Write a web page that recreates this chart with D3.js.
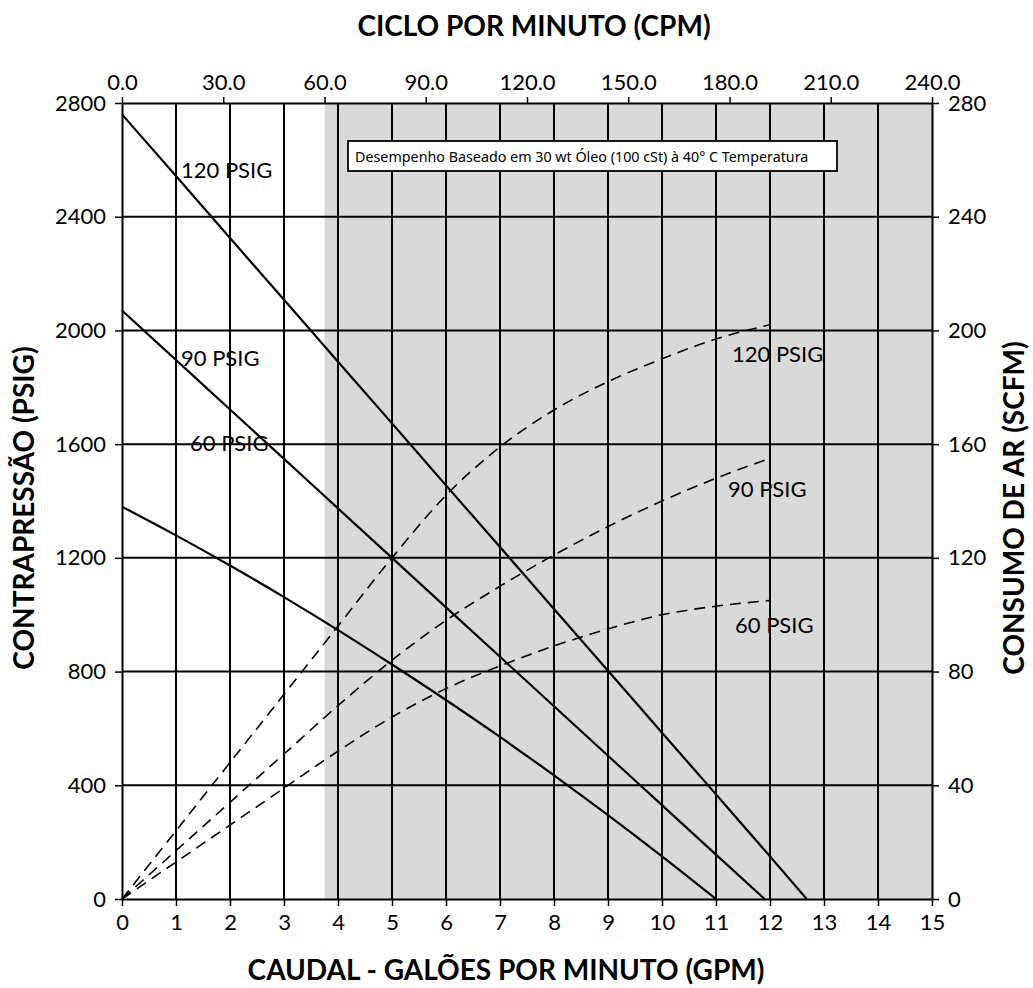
<!DOCTYPE html>
<html><head><meta charset="utf-8">
<script src="https://cdn.jsdelivr.net/npm/d3@7"></script>
<style>body{margin:0;background:#fff}svg{display:block}</style>
</head><body><svg id="c" width="1033" height="988"></svg>
<script>
// ---- data ----
const gpmTicks = [0,1,2,3,4,5,6,7,8,9,10,11,12,13,14,15];
const psigTicks = [0,400,800,1200,1600,2000,2400,2800];
const cpmTicks = [0,30,60,90,120,150,180,210,240];
const scfmTicks = [0,40,80,120,160,200,240,280];
const shadeStartCpm = 60;

// back pressure (PSIG) vs flow (GPM)
const bp120_x = [0,1,2,3,4,5,6,7,8,9,10,11,12,12.68];
const bp120_y = [2760,2543,2325,2108,1890,1673,1455,1238,1020,803,585,368,150,0];
const bp90_x  = [0,1,2,3,4,5,6,7,8,9,10,11,11.9];
const bp90_y  = [2070,1896,1722,1548,1374,1200,1026,852,678,504,330,156,0];
const bp60_x  = [0,1,2,3,4,5,6,7,8,9,10,11];
const bp60_y  = [1380,1279,1173,1062,946,825,700,570,435,295,150,0];

// air consumption (SCFM) vs flow (GPM)
const air_x   = [0,1,2,3,4,5,6,7,8,9,10,11,12];
const air120  = [0,24,48,72,96,120,142,159,172,182,190,197,202];
const air90   = [0,17,34,51,68,84,98,110,121,131,140,148,155];
const air60   = [0,13,26,39,52,64,74,82,89,95,100,103,105];

const labelsSolid = ["120 PSIG","90 PSIG","60 PSIG"];
const labelsAir = ["120 PSIG","90 PSIG","60 PSIG"];
const noteText = "Desempenho Baseado em 30 wt Óleo (100 cSt) à 40° C Temperatura";
const titleTop = "CICLO POR MINUTO (CPM)";
const titleBottom = "CAUDAL - GALÕES POR MINUTO (GPM)";
const titleLeft = "CONTRAPRESSÃO (PSIG)";
const titleRight = "CONSUMO DE AR (SCFM)";

// ---- layout ----
const L=122, R=932, T=103, B=899;
const svg = d3.select("#c");
const x = d3.scaleLinear().domain([0,15]).range([L,R]);
const xTop = d3.scaleLinear().domain([0,240]).range([L,R]);
const y = d3.scaleLinear().domain([0,2800]).range([B,T]);
const yR = d3.scaleLinear().domain([0,280]).range([B,T]);
const FONT = "Lato, 'Open Sans', sans-serif";

// shading
svg.append("rect").attr("x", xTop(shadeStartCpm)).attr("y", T)
  .attr("width", R - xTop(shadeStartCpm)).attr("height", B-T).attr("fill", "#d9d9d9");

// grid
const g = svg.append("g").attr("stroke","#000").attr("stroke-width",2);
g.selectAll(".vg").data(gpmTicks.slice(1,-1)).join("line")
  .attr("x1",d=>x(d)).attr("x2",d=>x(d)).attr("y1",T).attr("y2",B);
g.selectAll(".hg").data(psigTicks.slice(1,-1)).join("line")
  .attr("y1",d=>y(d)).attr("y2",d=>y(d)).attr("x1",L).attr("x2",R);

// axes
function styleAxis(sel){
  sel.selectAll("path").attr("stroke","#000").attr("stroke-width",2);
  sel.selectAll("line").attr("stroke","#000").attr("stroke-width",1.5);
  sel.selectAll("text").attr("font-family",FONT).attr("font-size",22).attr("fill","#000");
}
const ax = svg.append("g").attr("transform",`translate(0,${B})`)
  .call(d3.axisBottom(x).tickValues(gpmTicks).tickSize(7).tickSizeOuter(0).tickPadding(8));
styleAxis(ax);
const axT = svg.append("g").attr("transform",`translate(0,${T})`)
  .call(d3.axisTop(xTop).tickValues(cpmTicks).tickFormat(d3.format(".1f")).tickSize(6).tickSizeOuter(0).tickPadding(7));
styleAxis(axT);
const ayL = svg.append("g").attr("transform",`translate(${L},0)`)
  .call(d3.axisLeft(y).tickValues(psigTicks).tickFormat(d3.format("d")).tickSize(7).tickSizeOuter(0).tickPadding(9));
styleAxis(ayL);
const ayR = svg.append("g").attr("transform",`translate(${R},0)`)
  .call(d3.axisRight(yR).tickValues(scfmTicks).tickFormat(d3.format("d")).tickSize(7).tickSizeOuter(0).tickPadding(9));
styleAxis(ayR);

// curves
const solid = d3.line().x(d=>x(d[0])).y(d=>y(d[1])).curve(d3.curveMonotoneX);
const dashed = d3.line().x(d=>x(d[0])).y(d=>yR(d[1])).curve(d3.curveMonotoneX);
[[bp120_x,bp120_y],[bp90_x,bp90_y],[bp60_x,bp60_y]].forEach(([xs,ys])=>{
  svg.append("path").attr("d", solid(xs.map((v,i)=>[v,ys[i]])))
    .attr("fill","none").attr("stroke","#000").attr("stroke-width",2.2);
});
[air120,air90,air60].forEach(vs=>{
  svg.append("path").attr("d", dashed(air_x.map((v,i)=>[v,vs[i]])))
    .attr("fill","none").attr("stroke","#000").attr("stroke-width",1.6)
    .attr("stroke-dasharray","11,7");
});

// curve labels
const lab = svg.append("g").attr("font-family",FONT).attr("font-size",22).attr("fill","#000");
const solidPos = [[181,178],[181,366],[190,451]];
labelsSolid.forEach((t,i)=>lab.append("text").attr("x",solidPos[i][0]).attr("y",solidPos[i][1]).text(t));
const airPos = [[732,362],[728,497],[735,633]];
labelsAir.forEach((t,i)=>lab.append("text").attr("x",airPos[i][0]).attr("y",airPos[i][1]).text(t));

// note box
svg.append("rect").attr("x",348).attr("y",141).attr("width",489).attr("height",30)
  .attr("fill","#fff").attr("stroke","#1a1a1a").attr("stroke-width",2);
svg.append("text").attr("x",355).attr("y",161.5).attr("font-family","'Noto Sans', sans-serif")
  .attr("font-size",14.3).attr("fill","#000").text(noteText);

// titles
const tt = svg.append("g").attr("font-family",FONT).attr("font-weight",700).attr("font-size",28).attr("fill","#000").attr("text-anchor","middle");
tt.append("text").attr("x",534).attr("y",36).text(titleTop);
tt.append("text").attr("x",506).attr("y",980).text(titleBottom);
tt.append("text").attr("transform",`translate(34,508) rotate(-90)`).text(titleLeft);
tt.append("text").attr("transform",`translate(1024,508) rotate(-90)`).text(titleRight);
</script></body></html>
